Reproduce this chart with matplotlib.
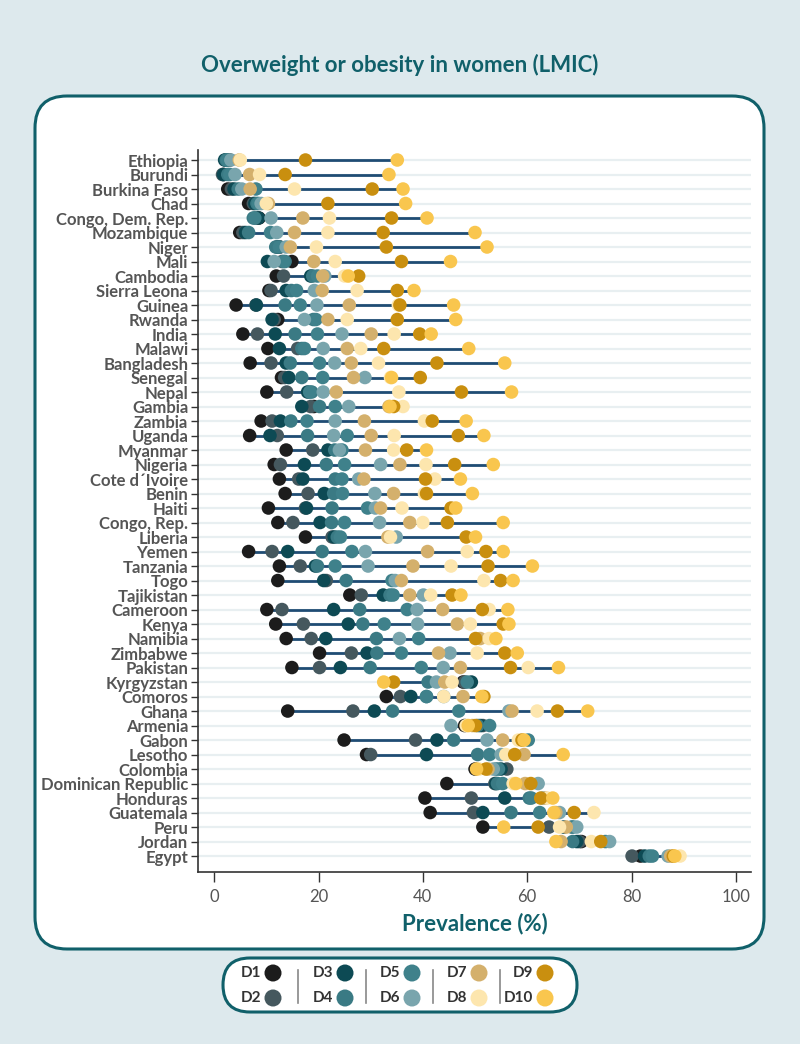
import matplotlib.pyplot as plt
from matplotlib.patches import FancyBboxPatch

# countries, top to bottom
countries = ['Ethiopia', 'Burundi', 'Burkina Faso', 'Chad', 'Congo, Dem. Rep.', 'Mozambique',
             'Niger', 'Mali', 'Cambodia', 'Sierra Leona', 'Guinea', 'Rwanda', 'India', 'Malawi',
             'Bangladesh', 'Senegal', 'Nepal', 'Gambia', 'Zambia', 'Uganda', 'Myanmar', 'Nigeria',
             'Cote d\u00b4Ivoire', 'Benin', 'Haiti', 'Congo, Rep.', 'Liberia', 'Yemen', 'Tanzania',
             'Togo', 'Tajikistan', 'Cameroon', 'Kenya', 'Namibia', 'Zimbabwe', 'Pakistan',
             'Kyrgyzstan', 'Comoros', 'Ghana', 'Armenia', 'Gabon', 'Lesotho', 'Colombia',
             'Dominican Republic', 'Honduras', 'Guatemala', 'Peru', 'Jordan', 'Egypt']

# prevalence (%) per wealth decile, same order as countries
D1 = [3.0, 1.8, 2.6, 6.6, 8.6, 4.9, 12.6, 14.9, 11.9, 10.5, 4.2, 12.2, 5.5, 10.3, 6.9, 12.9, 10.1,
      19.1, 9.0, 6.8, 13.8, 11.5, 12.5, 13.6, 10.4, 12.2, 17.5, 6.6, 12.5, 12.2, 26.0, 10.1, 11.8,
      13.8, 20.2, 14.9, 47.7, 33.0, 14.1, 48.0, 24.9, 29.2, 50.0, 44.6, 40.4, 41.4, 51.5, 70.4, 81.7]
D2 = [2.2, 1.6, 3.3, 7.5, 8.0, 5.5, 12.0, 13.0, 13.3, 10.9, 8.0, 11.5, 8.3, 16.0, 10.9, 13.5, 13.9,
      18.5, 11.1, 12.1, 18.9, 12.7, 16.2, 18.0, 17.5, 15.1, 22.6, 11.1, 16.5, 21.5, 28.2, 13.0, 17.1,
      18.6, 26.3, 20.2, 48.0, 35.7, 26.6, 51.5, 38.6, 30.0, 56.1, 53.8, 49.3, 49.7, 64.2, 70.0, 80.1]
D3 = [2.0, 1.8, 3.8, 7.8, 8.5, 6.0, 12.2, 10.2, 18.5, 13.8, 8.1, 11.1, 11.7, 12.5, 13.8, 14.3, 17.9,
      16.8, 12.7, 10.7, 21.8, 17.3, 17.0, 21.1, 17.7, 20.3, 23.0, 14.1, 19.4, 21.0, 32.4, 22.9, 25.7,
      21.4, 29.3, 24.2, 49.3, 37.7, 30.7, 51.0, 42.7, 40.7, 55.0, 54.0, 55.7, 51.5, 67.0, 69.5, 82.5]
D4 = [2.3, 2.6, 4.6, 8.2, 7.5, 6.6, 11.8, 13.6, 18.9, 14.8, 13.6, 19.0, 15.5, 16.8, 14.6, 16.8, 18.7,
      20.2, 14.7, 17.9, 23.1, 21.5, 23.2, 22.9, 22.6, 22.5, 23.6, 20.7, 19.8, 25.3, 33.7, 27.9, 28.5,
      31.1, 31.2, 29.9, 41.0, 40.7, 34.2, 50.5, 45.9, 50.5, 54.0, 54.3, 60.4, 56.9, 68.5, 68.7, 83.4]
D5 = [2.5, 3.0, 8.0, 8.5, 7.8, 10.8, 12.5, 13.3, 19.8, 15.8, 16.5, 19.5, 19.8, 17.3, 20.2, 20.8, 18.3,
      23.2, 17.8, 25.5, 24.5, 25.0, 24.5, 24.6, 29.4, 25.0, 24.2, 26.4, 23.2, 34.1, 34.3, 37.0, 32.6,
      39.2, 35.9, 39.7, 48.5, 40.7, 46.9, 52.8, 60.2, 52.8, 54.5, 55.3, 60.8, 62.4, 68.8, 75.0, 84.0]
D6 = [3.2, 4.0, 5.3, 9.0, 10.9, 12.0, 13.8, 11.5, 21.2, 19.2, 19.7, 17.3, 24.5, 20.9, 23.1, 28.9, 20.9,
      25.8, 23.2, 22.9, 24.0, 31.9, 27.7, 30.8, 30.9, 31.7, 34.9, 29.0, 29.5, 34.7, 40.1, 38.9, 39.0,
      35.5, 45.2, 43.9, 42.6, 44.0, 56.5, 45.4, 52.3, 55.0, 53.5, 62.1, 63.0, 66.2, 69.5, 75.8, 87.0]
D7 = [4.8, 6.8, 6.9, 10.4, 17.0, 15.4, 14.6, 19.1, 20.8, 20.7, 25.9, 21.8, 30.1, 25.5, 26.3, 26.7, 23.4,
      33.5, 28.8, 30.1, 29.0, 35.6, 28.7, 34.4, 31.9, 37.5, 33.3, 40.9, 38.1, 35.9, 37.5, 43.8, 46.6,
      51.0, 43.0, 47.2, 44.2, 47.7, 57.1, 49.5, 55.3, 59.4, 52.5, 59.6, 63.5, 65.5, 67.5, 66.5, 87.5]
D8 = [5.0, 8.7, 15.4, 10.0, 22.1, 21.8, 19.6, 23.2, 25.0, 27.4, 35.3, 25.5, 34.5, 28.1, 31.5, 33.8, 35.4,
      36.2, 40.3, 34.5, 34.4, 40.6, 42.3, 40.3, 36.0, 40.0, 33.8, 48.5, 45.4, 51.7, 41.5, 52.7, 49.1,
      52.7, 50.4, 60.2, 45.6, 44.0, 61.9, 48.3, 58.3, 55.9, 50.8, 57.3, 63.9, 72.8, 66.2, 72.3, 89.3]
D9 = [17.5, 13.6, 30.3, 21.8, 34.0, 32.4, 33.0, 35.9, 27.7, 35.1, 35.6, 35.1, 39.4, 32.5, 42.7, 39.5, 47.4,
      34.4, 41.8, 46.8, 36.9, 46.1, 40.5, 40.7, 45.4, 44.7, 48.3, 52.1, 52.5, 54.9, 45.6, 51.4, 55.4,
      50.1, 55.7, 56.8, 34.4, 51.7, 65.8, 50.1, 59.0, 57.6, 52.1, 60.7, 62.6, 69.0, 62.1, 74.1, 88.0]
D10 = [35.1, 33.5, 36.2, 36.7, 40.8, 50.0, 52.3, 45.3, 25.7, 38.3, 45.9, 46.3, 41.6, 48.8, 55.7, 34.0, 57.0,
       33.7, 48.3, 51.7, 40.7, 53.5, 47.2, 49.5, 46.3, 55.4, 50.1, 55.4, 61.0, 57.3, 47.3, 56.3, 56.5,
       54.0, 58.1, 66.0, 32.5, 51.3, 71.6, 48.7, 59.4, 66.9, 50.3, 57.8, 64.9, 65.1, 55.5, 65.5, 88.3]

deciles = ['D1', 'D2', 'D3', 'D4', 'D5', 'D6', 'D7', 'D8', 'D9', 'D10']
colors = ['#1c1c1c', '#45585e', '#0d4a54', '#3a7a84', '#3f818b', '#79a5ad',
          '#d4b06c', '#fde6ae', '#c98f0f', '#f9c64e']

teal = '#10606a'
W, H = 800, 1044
fig = plt.figure(figsize=(W / 100, H / 100), dpi=100)
fig.patch.set_facecolor('#dde9ed')

# background layer in pixel coords
bg = fig.add_axes([0, 0, 1, 1], zorder=0)
bg.set_xlim(0, W)
bg.set_ylim(H, 0)
bg.axis('off')
bg.add_patch(FancyBboxPatch((35, 96), 729, 853, boxstyle='round,pad=0,rounding_size=32',
                            fc='white', ec=teal, lw=2.2))
bg.text(400, 65, 'Overweight or obesity in women (LMIC)', ha='center', va='center',
        fontsize=16, fontweight='bold', color=teal, family='Lato')

# main dot plot
ax = fig.add_axes([198 / W, 1 - 872 / H, 553 / W, (872 - 150) / H], zorder=2)
ax.patch.set_alpha(0)
all_vals = [D1, D2, D3, D4, D5, D6, D7, D8, D9, D10]
ys = list(range(len(countries)))
for i, c in enumerate(countries):
    vals = [d[i] for d in all_vals]
    ax.axhline(i, color='#e8eff1', lw=1.6, zorder=0)
    ax.plot([min(vals), max(vals)], [i, i], color='#1f4c74', lw=2, zorder=1,
            solid_capstyle='butt')
for d, col in zip(all_vals, colors):
    ax.scatter(d, ys, s=95, color=col, edgecolor='none', zorder=3)

ax.set_ylim(len(countries) - 1 + 1.1, -0.69)
ax.set_xlim(-3.1, 102.9)
ax.set_yticks(ys)
ax.set_yticklabels(countries, fontsize=12, fontweight='bold', color='#555555', family='Lato')
ax.set_xticks([0, 20, 40, 60, 80, 100])
ax.set_xticklabels(['0', '20', '40', '60', '80', '100'], fontsize=12, color='#555555', family='Lato')
for s in ['top', 'right']:
    ax.spines[s].set_visible(False)
for s in ['left', 'bottom']:
    ax.spines[s].set_color('#333333')
    ax.spines[s].set_linewidth(1.2)
ax.tick_params(axis='y', length=5, width=1, color='#333333', pad=2)
ax.tick_params(axis='x', length=7, width=1, color='#333333', pad=5)
ax.set_xlabel('Prevalence (%)', fontsize=16, fontweight='bold', color=teal, family='Lato', labelpad=6)

# legend box
lg = fig.add_axes([0, 0, 1, 1], zorder=4)
lg.set_xlim(0, W)
lg.set_ylim(H, 0)
lg.axis('off')
lg.add_patch(FancyBboxPatch((223, 958), 354, 54, boxstyle='round,pad=0,rounding_size=27',
                            fc='white', ec=teal, lw=2.2))
col_x = [273, 345, 412, 479, 545]
row_y = [973, 998]
for k, (lab, col) in enumerate(zip(deciles, colors)):
    cx = col_x[k // 2]
    cy = row_y[k % 2]
    lg.scatter([cx], [cy], s=150, color=col, edgecolor='none')
    lg.text(cx - 12, cy, lab, ha='right', va='center', fontsize=11, fontweight='bold',
            color='#333333', family='Lato')
for sx in [298, 366, 433, 500]:
    lg.plot([sx, sx], [970, 1003], color='#888888', lw=1.2)

fig.savefig('out.png', dpi=100, facecolor=fig.get_facecolor())
